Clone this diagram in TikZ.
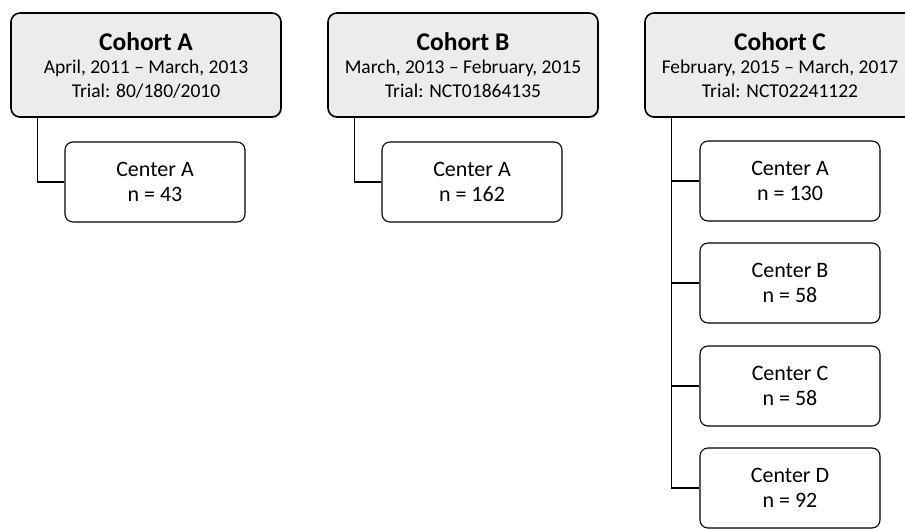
\documentclass[tikz,border=0pt]{standalone}
\usepackage{fontspec}
\setmainfont{Carlito}
\usetikzlibrary{shadows}

\begin{document}
\begin{tikzpicture}[x=1pt, y=-1pt,
    cohort/.style={rectangle, draw, line width=1.6pt, rounded corners=9pt, fill=gray!15,
      minimum width=270pt, minimum height=104pt, inner sep=0pt, align=center,
      font=\fontsize{19.5}{23.5}\selectfont,
      drop shadow={shadow xshift=1.2pt, shadow yshift=-1.2pt, opacity=0.35}},
    center/.style={rectangle, draw, line width=1.1pt, rounded corners=8pt, fill=white,
      minimum width=180pt, minimum height=80pt, inner sep=0pt, align=center,
      font=\fontsize{22}{25}\selectfont},
    link/.style={line width=1.1pt}]
      \useasboundingbox (0,0) rectangle (905,528);
      % Nodes
      \node[cohort] at (146, 65) (cohA) {\textbf{\fontsize{25.5}{24}\selectfont Cohort A}\\
        April, 2011 -- March, 2013\\Trial: 80/180/2010};
      \node[cohort] at (463, 65) (cohB) {\textbf{\fontsize{25.5}{24}\selectfont Cohort B}\\
        March, 2013 -- February, 2015\\Trial: NCT01864135};
      \node[cohort] at (780, 65) (cohC) {\textbf{\fontsize{25.5}{24}\selectfont Cohort C}\\
        February, 2015 -- March, 2017\\Trial: NCT02241122};

      \node[center] at (155, 182) (aA) {Center A\\n = 43};
      \node[center] at (472, 182) (bA) {Center A\\n = 162};
      \node[center] at (790, 181) (cA) {Center A\\n = 130};
      \node[center] at (790, 283) (cB) {Center B\\n = 58};
      \node[center] at (790, 386) (cC) {Center C\\n = 58};
      \node[center] at (790, 488) (cD) {Center D\\n = 92};

      \draw[link] (cohA.south west) ++(27,0) |- (aA.west);
      \draw[link] (cohB.south west) ++(27,0) |- (bA.west);
      \draw[link] (cohC.south west) ++(27,0) |- (cA.west);
      \draw[link] (cohC.south west) ++(27,0) |- (cB.west);
      \draw[link] (cohC.south west) ++(27,0) |- (cC.west);
      \draw[link] (cohC.south west) ++(27,0) |- (cD.west);
    \end{tikzpicture}
\end{document}
